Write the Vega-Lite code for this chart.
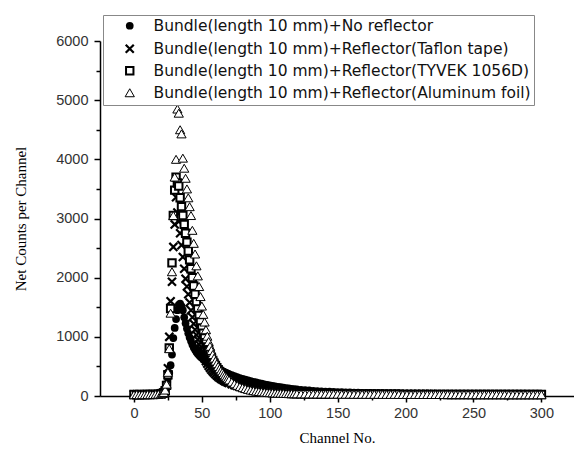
{
"$schema": "https://vega.github.io/schema/vega-lite/v6.json",
"width": 474, "height": 355,
"autosize": {"type": "none"},
"padding": {"left": 100, "top": 41, "right": 0, "bottom": 54},
"background": "white",
"config": {
 "view": {"stroke": null},
 "axis": {"domainColor": "black", "domainWidth": 1.5, "tickColor": "black", "tickWidth": 1.5, "grid": false,
  "labelFont": "Liberation Sans", "labelFontSize": 14.5, "labelColor": "#333",
  "titleFont": "Liberation Serif", "titleFontSize": 15, "titleFontWeight": "normal", "titleColor": "black"},
 "legend": {"orient": "none", "legendX": 3, "legendY": -26, "fillColor": "white", "strokeColor": "#888",
  "padding": 3, "symbolOffset": 16, "labelOffset": 16, "rowPadding": 5,
  "labelFont": "DejaVu Sans", "labelFontSize": 15.5, "labelColor": "#111", "labelLimit": 600}
},
"data": {"values": [
{"s":"a","c":0,"v":30},{"s":"a","c":2,"v":25},{"s":"a","c":4,"v":32},{"s":"a","c":6,"v":28},{"s":"a","c":8,"v":30},{"s":"a","c":10,"v":27},{"s":"a","c":12,"v":33},{"s":"a","c":14,"v":30},{"s":"a","c":16,"v":35},{"s":"a","c":18,"v":40},{"s":"a","c":20,"v":45},
{"s":"a","c":21,"v":50},{"s":"a","c":22,"v":80},{"s":"a","c":23,"v":130},{"s":"a","c":24,"v":200},{"s":"a","c":25,"v":300},{"s":"a","c":26,"v":390},{"s":"a","c":27,"v":520},{"s":"a","c":28,"v":700},{"s":"a","c":29,"v":980},{"s":"a","c":30,"v":1150},
{"s":"a","c":31,"v":1300},{"s":"a","c":32,"v":1450},{"s":"a","c":33,"v":1540},{"s":"a","c":34,"v":1560},{"s":"a","c":35,"v":1520},{"s":"a","c":36,"v":1450},{"s":"a","c":37,"v":1330},{"s":"a","c":38,"v":1230},{"s":"a","c":39,"v":1140},{"s":"a","c":40,"v":1060},
{"s":"a","c":41,"v":990},{"s":"a","c":42,"v":930},{"s":"a","c":43,"v":870},{"s":"a","c":44,"v":820},{"s":"a","c":45,"v":780},{"s":"a","c":46,"v":745},{"s":"a","c":47,"v":715},{"s":"a","c":48,"v":690},{"s":"a","c":49,"v":665},{"s":"a","c":50,"v":645},
{"s":"a","c":51,"v":625},{"s":"a","c":52,"v":605},{"s":"a","c":53,"v":588},{"s":"a","c":54,"v":570},{"s":"a","c":55,"v":555},{"s":"a","c":56,"v":540},{"s":"a","c":57,"v":525},{"s":"a","c":58,"v":510},{"s":"a","c":59,"v":495},{"s":"a","c":60,"v":480},
{"s":"a","c":61,"v":467},{"s":"a","c":62,"v":455},{"s":"a","c":63,"v":443},{"s":"a","c":64,"v":432},{"s":"a","c":65,"v":421},{"s":"a","c":66,"v":410},{"s":"a","c":67,"v":400},{"s":"a","c":68,"v":390},{"s":"a","c":69,"v":380},{"s":"a","c":70,"v":370},
{"s":"a","c":72,"v":352},{"s":"a","c":74,"v":335},{"s":"a","c":76,"v":319},{"s":"a","c":78,"v":304},{"s":"a","c":80,"v":290},{"s":"a","c":82,"v":277},{"s":"a","c":84,"v":264},{"s":"a","c":86,"v":252},{"s":"a","c":88,"v":240},{"s":"a","c":90,"v":229},
{"s":"a","c":92,"v":218},{"s":"a","c":94,"v":208},{"s":"a","c":96,"v":198},{"s":"a","c":98,"v":189},{"s":"a","c":100,"v":180},{"s":"a","c":102,"v":171},{"s":"a","c":104,"v":163},{"s":"a","c":106,"v":155},{"s":"a","c":108,"v":148},{"s":"a","c":110,"v":141},
{"s":"a","c":112,"v":134},{"s":"a","c":114,"v":128},{"s":"a","c":116,"v":122},{"s":"a","c":118,"v":116},{"s":"a","c":120,"v":111},
{"s":"a","c":123,"v":104},{"s":"a","c":126,"v":98},{"s":"a","c":129,"v":93},{"s":"a","c":132,"v":88},{"s":"a","c":135,"v":84},{"s":"a","c":138,"v":80},{"s":"a","c":141,"v":76},{"s":"a","c":144,"v":73},{"s":"a","c":147,"v":70},{"s":"a","c":150,"v":67},
{"s":"a","c":153,"v":64},{"s":"a","c":156,"v":62},{"s":"a","c":159,"v":60},{"s":"a","c":162,"v":58},{"s":"a","c":165,"v":56},{"s":"a","c":168,"v":54},{"s":"a","c":171,"v":52},{"s":"a","c":174,"v":51},{"s":"a","c":177,"v":49},{"s":"a","c":180,"v":48},
{"s":"a","c":183,"v":47},{"s":"a","c":186,"v":46},{"s":"a","c":189,"v":45},{"s":"a","c":192,"v":44},{"s":"a","c":195,"v":43},{"s":"a","c":198,"v":42},{"s":"a","c":201,"v":41},{"s":"a","c":204,"v":41},{"s":"a","c":207,"v":40},{"s":"a","c":210,"v":40},
{"s":"a","c":213,"v":39},{"s":"a","c":216,"v":39},{"s":"a","c":219,"v":38},{"s":"a","c":222,"v":38},{"s":"a","c":225,"v":38},{"s":"a","c":228,"v":37},{"s":"a","c":231,"v":37},{"s":"a","c":234,"v":37},{"s":"a","c":237,"v":36},{"s":"a","c":240,"v":36},
{"s":"a","c":243,"v":36},{"s":"a","c":246,"v":36},{"s":"a","c":249,"v":35},{"s":"a","c":252,"v":35},{"s":"a","c":255,"v":35},{"s":"a","c":258,"v":35},{"s":"a","c":261,"v":34},{"s":"a","c":264,"v":34},{"s":"a","c":267,"v":34},{"s":"a","c":270,"v":34},
{"s":"a","c":273,"v":34},{"s":"a","c":276,"v":33},{"s":"a","c":279,"v":33},{"s":"a","c":282,"v":33},{"s":"a","c":285,"v":33},{"s":"a","c":288,"v":33},{"s":"a","c":291,"v":33},{"s":"a","c":294,"v":32},{"s":"a","c":297,"v":32},{"s":"a","c":300,"v":32},

{"s":"b","c":0,"v":24},{"s":"b","c":2,"v":27},{"s":"b","c":4,"v":23},{"s":"b","c":6,"v":25},{"s":"b","c":8,"v":22},{"s":"b","c":10,"v":26},{"s":"b","c":12,"v":24},{"s":"b","c":14,"v":27},{"s":"b","c":16,"v":26},{"s":"b","c":18,"v":30},{"s":"b","c":20,"v":36},
{"s":"b","c":21,"v":40},{"s":"b","c":22,"v":55},{"s":"b","c":23,"v":85},{"s":"b","c":24,"v":180},{"s":"b","c":25,"v":470},{"s":"b","c":26,"v":1000},{"s":"b","c":27,"v":1600},{"s":"b","c":28,"v":1930},{"s":"b","c":29,"v":2520},{"s":"b","c":30,"v":2900},
{"s":"b","c":31,"v":3360},{"s":"b","c":32,"v":3100},{"s":"b","c":33,"v":2950},{"s":"b","c":34,"v":2750},{"s":"b","c":35,"v":2550},{"s":"b","c":36,"v":2350},{"s":"b","c":37,"v":2150},{"s":"b","c":38,"v":1980},{"s":"b","c":39,"v":1850},{"s":"b","c":40,"v":1720},
{"s":"b","c":41,"v":1580},{"s":"b","c":42,"v":1450},{"s":"b","c":43,"v":1330},{"s":"b","c":44,"v":1220},{"s":"b","c":45,"v":1120},{"s":"b","c":46,"v":1030},{"s":"b","c":47,"v":950},{"s":"b","c":48,"v":870},{"s":"b","c":49,"v":800},{"s":"b","c":50,"v":740},
{"s":"b","c":51,"v":685},{"s":"b","c":52,"v":635},{"s":"b","c":53,"v":590},{"s":"b","c":54,"v":548},{"s":"b","c":55,"v":510},{"s":"b","c":56,"v":476},{"s":"b","c":57,"v":445},{"s":"b","c":58,"v":417},{"s":"b","c":59,"v":392},{"s":"b","c":60,"v":368},
{"s":"b","c":61,"v":347},{"s":"b","c":62,"v":328},{"s":"b","c":63,"v":310},{"s":"b","c":64,"v":294},{"s":"b","c":65,"v":279},{"s":"b","c":66,"v":265},{"s":"b","c":67,"v":252},{"s":"b","c":68,"v":240},{"s":"b","c":69,"v":229},{"s":"b","c":70,"v":219},
{"s":"b","c":72,"v":200},{"s":"b","c":74,"v":184},{"s":"b","c":76,"v":170},{"s":"b","c":78,"v":157},{"s":"b","c":80,"v":146},{"s":"b","c":82,"v":136},{"s":"b","c":84,"v":127},{"s":"b","c":86,"v":119},{"s":"b","c":88,"v":111},{"s":"b","c":90,"v":104},
{"s":"b","c":92,"v":98},{"s":"b","c":94,"v":92},{"s":"b","c":96,"v":87},{"s":"b","c":98,"v":82},{"s":"b","c":100,"v":78},{"s":"b","c":102,"v":74},{"s":"b","c":104,"v":70},{"s":"b","c":106,"v":67},{"s":"b","c":108,"v":64},{"s":"b","c":110,"v":61},
{"s":"b","c":112,"v":59},{"s":"b","c":114,"v":57},{"s":"b","c":116,"v":55},{"s":"b","c":118,"v":53},{"s":"b","c":120,"v":51},
{"s":"b","c":123,"v":49},{"s":"b","c":126,"v":48},{"s":"b","c":129,"v":47},{"s":"b","c":132,"v":46},{"s":"b","c":135,"v":45},{"s":"b","c":138,"v":44},{"s":"b","c":141,"v":43},{"s":"b","c":144,"v":42},{"s":"b","c":147,"v":41},{"s":"b","c":150,"v":40},
{"s":"b","c":153,"v":40},{"s":"b","c":156,"v":39},{"s":"b","c":159,"v":38},{"s":"b","c":162,"v":38},{"s":"b","c":165,"v":37},{"s":"b","c":168,"v":37},{"s":"b","c":171,"v":36},{"s":"b","c":174,"v":36},{"s":"b","c":177,"v":35},{"s":"b","c":180,"v":35},
{"s":"b","c":183,"v":34},{"s":"b","c":186,"v":34},{"s":"b","c":189,"v":34},{"s":"b","c":192,"v":33},{"s":"b","c":195,"v":33},{"s":"b","c":198,"v":33},{"s":"b","c":201,"v":32},{"s":"b","c":204,"v":32},{"s":"b","c":207,"v":32},{"s":"b","c":210,"v":31},
{"s":"b","c":213,"v":31},{"s":"b","c":216,"v":31},{"s":"b","c":219,"v":31},{"s":"b","c":222,"v":30},{"s":"b","c":225,"v":30},{"s":"b","c":228,"v":30},{"s":"b","c":231,"v":30},{"s":"b","c":234,"v":29},{"s":"b","c":237,"v":29},{"s":"b","c":240,"v":29},
{"s":"b","c":243,"v":29},{"s":"b","c":246,"v":29},{"s":"b","c":249,"v":28},{"s":"b","c":252,"v":28},{"s":"b","c":255,"v":28},{"s":"b","c":258,"v":28},{"s":"b","c":261,"v":28},{"s":"b","c":264,"v":28},{"s":"b","c":267,"v":27},{"s":"b","c":270,"v":27},
{"s":"b","c":273,"v":27},{"s":"b","c":276,"v":27},{"s":"b","c":279,"v":27},{"s":"b","c":282,"v":27},{"s":"b","c":285,"v":27},{"s":"b","c":288,"v":26},{"s":"b","c":291,"v":26},{"s":"b","c":294,"v":26},{"s":"b","c":297,"v":26},{"s":"b","c":300,"v":26},

{"s":"c","c":0,"v":25},{"s":"c","c":2,"v":22},{"s":"c","c":4,"v":26},{"s":"c","c":6,"v":23},{"s":"c","c":8,"v":25},{"s":"c","c":10,"v":24},{"s":"c","c":12,"v":27},{"s":"c","c":14,"v":25},{"s":"c","c":16,"v":28},{"s":"c","c":18,"v":32},{"s":"c","c":20,"v":38},
{"s":"c","c":21,"v":45},{"s":"c","c":22,"v":55},{"s":"c","c":23,"v":90},{"s":"c","c":24,"v":180},{"s":"c","c":25,"v":360},{"s":"c","c":26,"v":810},{"s":"c","c":27,"v":1480},{"s":"c","c":28,"v":2250},{"s":"c","c":29,"v":3050},{"s":"c","c":30,"v":3480},
{"s":"c","c":31,"v":3700},{"s":"c","c":32,"v":3600},{"s":"c","c":33,"v":3550},{"s":"c","c":34,"v":3350},{"s":"c","c":35,"v":3200},{"s":"c","c":36,"v":3050},{"s":"c","c":37,"v":2900},{"s":"c","c":38,"v":2750},{"s":"c","c":39,"v":2600},{"s":"c","c":40,"v":2450},
{"s":"c","c":41,"v":2300},{"s":"c","c":42,"v":2150},{"s":"c","c":43,"v":2000},{"s":"c","c":44,"v":1860},{"s":"c","c":45,"v":1720},{"s":"c","c":46,"v":1590},{"s":"c","c":47,"v":1470},{"s":"c","c":48,"v":1360},{"s":"c","c":49,"v":1250},{"s":"c","c":50,"v":1150},
{"s":"c","c":51,"v":1060},{"s":"c","c":52,"v":980},{"s":"c","c":53,"v":900},{"s":"c","c":54,"v":830},{"s":"c","c":55,"v":765},{"s":"c","c":56,"v":705},{"s":"c","c":57,"v":650},{"s":"c","c":58,"v":600},{"s":"c","c":59,"v":555},{"s":"c","c":60,"v":515},
{"s":"c","c":61,"v":478},{"s":"c","c":62,"v":445},{"s":"c","c":63,"v":415},{"s":"c","c":64,"v":388},{"s":"c","c":65,"v":363},{"s":"c","c":66,"v":340},{"s":"c","c":67,"v":320},{"s":"c","c":68,"v":300},{"s":"c","c":69,"v":283},{"s":"c","c":70,"v":267},
{"s":"c","c":72,"v":238},{"s":"c","c":74,"v":212},{"s":"c","c":76,"v":190},{"s":"c","c":78,"v":170},{"s":"c","c":80,"v":153},{"s":"c","c":82,"v":138},{"s":"c","c":84,"v":125},{"s":"c","c":86,"v":113},{"s":"c","c":88,"v":103},{"s":"c","c":90,"v":94},
{"s":"c","c":92,"v":86},{"s":"c","c":94,"v":79},{"s":"c","c":96,"v":73},{"s":"c","c":98,"v":68},{"s":"c","c":100,"v":63},{"s":"c","c":102,"v":59},{"s":"c","c":104,"v":56},{"s":"c","c":106,"v":53},{"s":"c","c":108,"v":50},{"s":"c","c":110,"v":48},
{"s":"c","c":112,"v":46},{"s":"c","c":114,"v":44},{"s":"c","c":116,"v":42},{"s":"c","c":118,"v":41},{"s":"c","c":120,"v":40},
{"s":"c","c":123,"v":39},{"s":"c","c":126,"v":38},{"s":"c","c":129,"v":37},{"s":"c","c":132,"v":37},{"s":"c","c":135,"v":36},{"s":"c","c":138,"v":35},{"s":"c","c":141,"v":35},{"s":"c","c":144,"v":34},{"s":"c","c":147,"v":34},{"s":"c","c":150,"v":33},
{"s":"c","c":153,"v":33},{"s":"c","c":156,"v":32},{"s":"c","c":159,"v":32},{"s":"c","c":162,"v":32},{"s":"c","c":165,"v":31},{"s":"c","c":168,"v":31},{"s":"c","c":171,"v":31},{"s":"c","c":174,"v":30},{"s":"c","c":177,"v":30},{"s":"c","c":180,"v":30},
{"s":"c","c":183,"v":30},{"s":"c","c":186,"v":29},{"s":"c","c":189,"v":29},{"s":"c","c":192,"v":29},{"s":"c","c":195,"v":29},{"s":"c","c":198,"v":28},{"s":"c","c":201,"v":28},{"s":"c","c":204,"v":28},{"s":"c","c":207,"v":28},{"s":"c","c":210,"v":28},
{"s":"c","c":213,"v":27},{"s":"c","c":216,"v":27},{"s":"c","c":219,"v":27},{"s":"c","c":222,"v":27},{"s":"c","c":225,"v":27},{"s":"c","c":228,"v":27},{"s":"c","c":231,"v":26},{"s":"c","c":234,"v":26},{"s":"c","c":237,"v":26},{"s":"c","c":240,"v":26},
{"s":"c","c":243,"v":26},{"s":"c","c":246,"v":26},{"s":"c","c":249,"v":26},{"s":"c","c":252,"v":25},{"s":"c","c":255,"v":25},{"s":"c","c":258,"v":25},{"s":"c","c":261,"v":25},{"s":"c","c":264,"v":25},{"s":"c","c":267,"v":25},{"s":"c","c":270,"v":25},
{"s":"c","c":273,"v":25},{"s":"c","c":276,"v":24},{"s":"c","c":279,"v":24},{"s":"c","c":282,"v":24},{"s":"c","c":285,"v":24},{"s":"c","c":288,"v":24},{"s":"c","c":291,"v":24},{"s":"c","c":294,"v":24},{"s":"c","c":297,"v":24},{"s":"c","c":300,"v":24},

{"s":"d","c":0,"v":22},{"s":"d","c":2,"v":25},{"s":"d","c":4,"v":20},{"s":"d","c":6,"v":24},{"s":"d","c":8,"v":22},{"s":"d","c":10,"v":26},{"s":"d","c":12,"v":23},{"s":"d","c":14,"v":25},{"s":"d","c":16,"v":28},{"s":"d","c":18,"v":30},{"s":"d","c":20,"v":35},
{"s":"d","c":21,"v":45},{"s":"d","c":22,"v":60},{"s":"d","c":23,"v":100},{"s":"d","c":24,"v":200},{"s":"d","c":25,"v":400},{"s":"d","c":26,"v":800},{"s":"d","c":27,"v":1400},{"s":"d","c":28,"v":2100},{"s":"d","c":29,"v":3050},{"s":"d","c":30,"v":3700},
{"s":"d","c":31,"v":4000},{"s":"d","c":32,"v":4850},{"s":"d","c":33,"v":4780},{"s":"d","c":34,"v":4500},{"s":"d","c":35,"v":4430},{"s":"d","c":36,"v":4020},{"s":"d","c":37,"v":3850},{"s":"d","c":38,"v":3680},{"s":"d","c":39,"v":3500},{"s":"d","c":40,"v":3350},
{"s":"d","c":41,"v":3200},{"s":"d","c":42,"v":3050},{"s":"d","c":43,"v":2800},{"s":"d","c":44,"v":2580},{"s":"d","c":45,"v":2400},{"s":"d","c":46,"v":2200},{"s":"d","c":47,"v":2030},{"s":"d","c":48,"v":1850},{"s":"d","c":49,"v":1680},{"s":"d","c":50,"v":1520},
{"s":"d","c":51,"v":1380},{"s":"d","c":52,"v":1250},{"s":"d","c":53,"v":1120},{"s":"d","c":54,"v":1010},{"s":"d","c":55,"v":920},{"s":"d","c":56,"v":840},{"s":"d","c":57,"v":770},{"s":"d","c":58,"v":700},{"s":"d","c":59,"v":640},{"s":"d","c":60,"v":590},
{"s":"d","c":61,"v":545},{"s":"d","c":62,"v":500},{"s":"d","c":63,"v":460},{"s":"d","c":64,"v":425},{"s":"d","c":65,"v":395},{"s":"d","c":66,"v":365},{"s":"d","c":67,"v":340},{"s":"d","c":68,"v":315},{"s":"d","c":69,"v":292},{"s":"d","c":70,"v":272},
{"s":"d","c":72,"v":236},{"s":"d","c":74,"v":205},{"s":"d","c":76,"v":180},{"s":"d","c":78,"v":158},{"s":"d","c":80,"v":140},{"s":"d","c":82,"v":125},{"s":"d","c":84,"v":112},{"s":"d","c":86,"v":100},{"s":"d","c":88,"v":90},{"s":"d","c":90,"v":82},
{"s":"d","c":92,"v":76},{"s":"d","c":94,"v":70},{"s":"d","c":96,"v":65},{"s":"d","c":98,"v":60},{"s":"d","c":100,"v":56},{"s":"d","c":102,"v":53},{"s":"d","c":104,"v":50},{"s":"d","c":106,"v":48},{"s":"d","c":108,"v":46},{"s":"d","c":110,"v":44},
{"s":"d","c":112,"v":42},{"s":"d","c":114,"v":40},{"s":"d","c":116,"v":39},{"s":"d","c":118,"v":38},{"s":"d","c":120,"v":37},
{"s":"d","c":123,"v":36},{"s":"d","c":126,"v":35},{"s":"d","c":129,"v":35},{"s":"d","c":132,"v":34},{"s":"d","c":135,"v":33},{"s":"d","c":138,"v":33},{"s":"d","c":141,"v":32},{"s":"d","c":144,"v":32},{"s":"d","c":147,"v":31},{"s":"d","c":150,"v":31},
{"s":"d","c":153,"v":30},{"s":"d","c":156,"v":30},{"s":"d","c":159,"v":30},{"s":"d","c":162,"v":29},{"s":"d","c":165,"v":29},{"s":"d","c":168,"v":29},{"s":"d","c":171,"v":28},{"s":"d","c":174,"v":28},{"s":"d","c":177,"v":28},{"s":"d","c":180,"v":28},
{"s":"d","c":183,"v":27},{"s":"d","c":186,"v":27},{"s":"d","c":189,"v":27},{"s":"d","c":192,"v":27},{"s":"d","c":195,"v":26},{"s":"d","c":198,"v":26},{"s":"d","c":201,"v":26},{"s":"d","c":204,"v":26},{"s":"d","c":207,"v":26},{"s":"d","c":210,"v":25},
{"s":"d","c":213,"v":25},{"s":"d","c":216,"v":25},{"s":"d","c":219,"v":25},{"s":"d","c":222,"v":25},{"s":"d","c":225,"v":25},{"s":"d","c":228,"v":24},{"s":"d","c":231,"v":24},{"s":"d","c":234,"v":24},{"s":"d","c":237,"v":24},{"s":"d","c":240,"v":24},
{"s":"d","c":243,"v":24},{"s":"d","c":246,"v":24},{"s":"d","c":249,"v":23},{"s":"d","c":252,"v":23},{"s":"d","c":255,"v":23},{"s":"d","c":258,"v":23},{"s":"d","c":261,"v":23},{"s":"d","c":264,"v":23},{"s":"d","c":267,"v":23},{"s":"d","c":270,"v":23},
{"s":"d","c":273,"v":22},{"s":"d","c":276,"v":22},{"s":"d","c":279,"v":22},{"s":"d","c":282,"v":22},{"s":"d","c":285,"v":22},{"s":"d","c":288,"v":22},{"s":"d","c":291,"v":22},{"s":"d","c":294,"v":22},{"s":"d","c":297,"v":22},{"s":"d","c":300,"v":22}
]},
"mark": {"type": "point", "opacity": 1},
"encoding": {
 "x": {"field": "c", "type": "quantitative", "scale": {"domain": [-25, 324], "nice": false, "zero": false},
  "axis": {"values": [0,25,50,75,100,125,150,175,200,225,250,275,300], "format": "d",
   "labelExpr": "datum.value % 50 == 0 ? datum.label : ''",
   "tickSize": {"condition": {"test": "datum.value % 50 == 0", "value": 6}, "value": 4},
   "labelPadding": 4, "title": "Channel No.", "titlePadding": 11}},
 "y": {"field": "v", "type": "quantitative", "scale": {"domain": [0, 6000], "nice": false},
  "axis": {"values": [0,500,1000,1500,2000,2500,3000,3500,4000,4500,5000,5500,6000], "format": "d",
   "labelExpr": "datum.value % 1000 == 0 ? datum.label : ''",
   "tickSize": {"condition": {"test": "datum.value % 1000 == 0", "value": 6}, "value": 4},
   "labelPadding": 6, "title": "Net Counts per Channel", "titlePadding": 27}},
 "shape": {"field": "s", "type": "nominal",
  "scale": {"type": "ordinal", "domain": ["a","b","c","d"], "range": ["circle", "M-1,-1L1,1M-1,1L1,-1", "square", "triangle-up"]},
  "legend": {"title": null,
   "labelExpr": "datum.label == 'a' ? 'Bundle(length 10 mm)+No reflector' : datum.label == 'b' ? 'Bundle(length 10 mm)+Reflector(Taflon tape)' : datum.label == 'c' ? 'Bundle(length 10 mm)+Reflector(TYVEK 1056D)' : 'Bundle(length 10 mm)+Reflector(Aluminum foil)'"}},
 "fill": {"field": "s", "type": "nominal", "scale": {"type": "ordinal", "domain": ["a","b","c","d"], "range": ["black", "transparent", "white", "white"]}, "legend": {"title": null}},
 "stroke": {"field": "s", "type": "nominal", "scale": {"type": "ordinal", "domain": ["a","b","c","d"], "range": ["black", "black", "black", "black"]}, "legend": {"title": null}},
 "strokeWidth": {"field": "s", "type": "nominal", "scale": {"type": "ordinal", "domain": ["a","b","c","d"], "range": [0, 2.2, 2, 1]}, "legend": {"title": null}},
 "size": {"field": "s", "type": "nominal", "scale": {"type": "ordinal", "domain": ["a","b","c","d"], "range": [60, 65, 55, 85]}, "legend": {"title": null}}
}
}
